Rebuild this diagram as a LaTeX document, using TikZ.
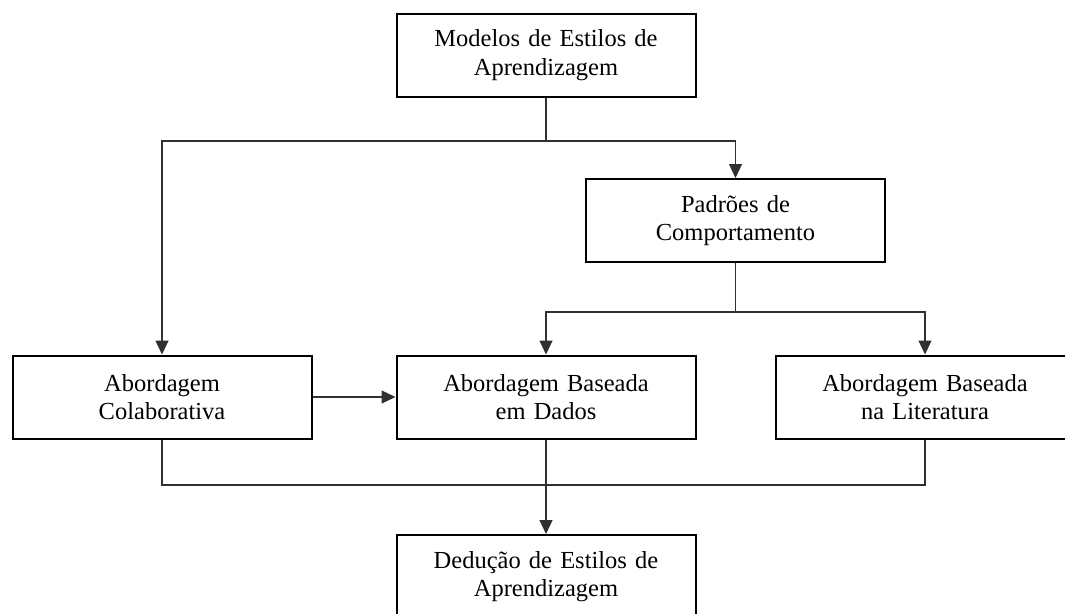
\documentclass[tikz,border=0pt]{standalone}
\usepackage{fontspec}
\setmainfont{Liberation Serif}
\usetikzlibrary{arrows.meta}

\definecolor{linkgray}{HTML}{303030}

\tikzset{
  stagebox/.style={draw=black, line width=2pt, rectangle,
    minimum width=299pt, minimum height=83pt, inner sep=0pt,
    text width=290pt, align=center,
    font=\fontsize{24.5pt}{28.5pt}\selectfont},
  link/.style={draw=linkgray, line width=1.2pt},
  arrowlink/.style={link, -{Triangle[width=13pt,length=14pt]}}
}

\begin{document}
\begin{tikzpicture}[x=1pt, y=1pt]
  \useasboundingbox (0,0) rectangle (1065,-613);
  \clip (0,0) rectangle (1065,-613);

  % stages of the flow
  \node[stagebox] (models) at (546,-55) {Modelos de Estilos de\\Aprendizagem};
  \node[stagebox] (patterns) at (735.5,-220.5) {Padrões de\\Comportamento};
  \node[stagebox] (collab) at (162,-397) {Abordagem\\Colaborativa};
  \node[stagebox] (data) at (546,-397) {Abordagem Baseada\\em Dados};
  \node[stagebox] (lit) at (925,-397) {Abordagem Baseada\\na Literatura};
  \node[stagebox] (deduce) at (546,-576.5) {Dedução de Estilos de\\Aprendizagem};

  % junction points of the branching lines
  \coordinate (split1) at (546,-141);
  \coordinate (split2) at (735.5,-312);
  \coordinate (merge) at (546,-485);

  % models branch to collaborative approach and behaviour patterns
  \draw[link] (models.south) -- (split1);
  \draw[arrowlink] (split1) -| (collab.north);
  \draw[arrowlink] (split1) -| (patterns.north);

  % behaviour patterns branch to the two based approaches
  \draw[link] (patterns.south) -- (split2);
  \draw[arrowlink] (split2) -| (data.north);
  \draw[arrowlink] (split2) -| (lit.north);

  % collaborative feeds data-driven approach
  \draw[arrowlink] (collab.east) -- (data.west);

  % all approaches merge into style deduction
  \draw[link] (collab.south) |- (merge);
  \draw[link] (lit.south) |- (merge);
  \draw[arrowlink] (data.south) -- (deduce.north);
\end{tikzpicture}
\end{document}
